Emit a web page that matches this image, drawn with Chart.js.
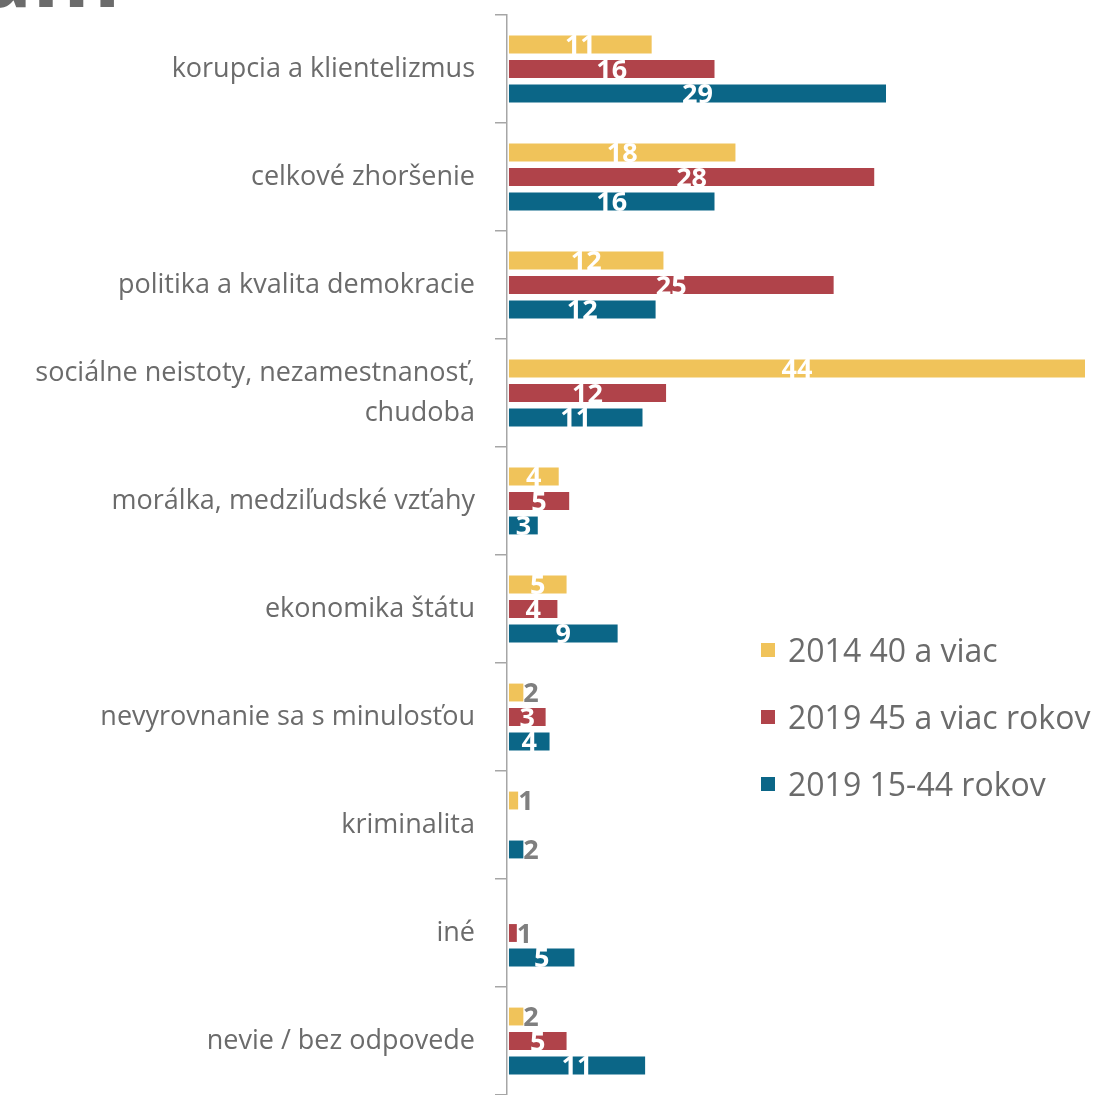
<!DOCTYPE html>
<html>
<head>
<meta charset="utf-8">
<script src="https://cdn.jsdelivr.net/npm/chart.js@4.4.0/dist/chart.umd.min.js"></script>
<style>
  body { margin: 0; background: #fff; overflow: hidden; }
  #wrap { position: relative; width: 1105px; height: 1095px; }
  #head { position: absolute; left: -22px; top: -73px; font: bold 90px "Open Sans"; color: #6b6b6b; line-height: 1; }
  #legend { position: absolute; left: 761px; top: 616px; font-family: "Open Sans"; font-size: 32px; color: #6b6b6b; }
  .row { height: 67px; display: flex; align-items: center; }
  .sw { width: 14px; height: 14px; margin-right: 13px; }
</style>
</head>
<body>
<div id="wrap">
  <canvas id="myChart" width="1105" height="1095"></canvas>
  <div id="head">am</div>
  <div id="legend"></div>
</div>
<script>
var categories = [
    "korupcia a klientelizmus",
    "celkové zhoršenie",
    "politika a kvalita demokracie",
    ["sociálne neistoty, nezamestnanosť,", "chudoba"],
    "morálka, medziľudské vzťahy",
    "ekonomika štátu",
    "nevyrovnanie sa s minulosťou",
    "kriminalita",
    "iné",
    "nevie / bez odpovede"
];

var seriesNames = ["2014 40 a viac", "2019 45 a viac rokov", "2019 15-44 rokov"];
var colors = ["#f0c35a", "#b0434a", "#0b6687"];

// bar lengths
var values2014 = [10.9, 17.3, 11.8, 44, 3.8, 4.4, 1.1, 0.7, 0, 1.1];
var values2019old = [15.7, 27.9, 24.8, 12.0, 4.6, 3.7, 2.8, 0, 0.6, 4.4];
var values2019young = [28.8, 15.7, 11.2, 10.2, 2.2, 8.3, 3.1, 1.1, 5.0, 10.4];

// numbers printed on the bars
var shown2014 = [11, 18, 12, 44, 4, 5, 2, 1, null, 2];
var shown2019old = [16, 28, 25, 12, 5, 4, 3, null, 1, 5];
var shown2019young = [29, 16, 12, 11, 3, 9, 4, 2, 5, 11];

var barLabels = {
    id: 'barLabels',
    afterDatasetsDraw: function(chart) {
        var ctx = chart.ctx;
        ctx.save();
        ctx.font = 'bold 27px "Open Sans"';
        ctx.textBaseline = 'middle';
        chart.data.datasets.forEach(function(ds, i) {
            var meta = chart.getDatasetMeta(i);
            meta.data.forEach(function(bar, j) {
                var txt = ds.shown[j];
                if (txt == null) return;
                if (txt <= 2) {
                    ctx.fillStyle = '#7f7f7f';
                    ctx.textAlign = 'left';
                    ctx.fillText(txt, bar.x, bar.y + 2);
                } else {
                    ctx.fillStyle = '#ffffff';
                    ctx.textAlign = 'center';
                    ctx.fillText(txt, (bar.x + bar.base) / 2, bar.y + 2);
                }
            });
        });
        ctx.restore();
    }
};

var data = {
    labels: categories,
    datasets: [
        { label: seriesNames[0], data: values2014, shown: shown2014, backgroundColor: colors[0] },
        { label: seriesNames[1], data: values2019old, shown: shown2019old, backgroundColor: colors[1] },
        { label: seriesNames[2], data: values2019young, shown: shown2019young, backgroundColor: colors[2] }
    ]
};

var ctx = document.getElementById('myChart');

var myChart = new Chart(ctx, {
    type: 'bar',
    data: data,
    plugins: [barLabels],
    options: {
        indexAxis: 'y',
        responsive: false,
        animation: false,
        categoryPercentage: 0.68,
        barPercentage: 0.73,
        layout: { padding: { top: 15, right: 20, bottom: 0, left: 0 } },
        plugins: {
            legend: { display: false },
            tooltip: { enabled: false }
        },
        scales: {
            x: { display: false, min: -0.15, max: 44 },
            y: {
                grid: { drawOnChartArea: false, tickLength: 12, color: '#a6a6a6', lineWidth: 1.5, offset: true },
                border: { display: true, color: '#a6a6a6', width: 1.5 },
                ticks: { color: '#6b6b6b', font: { family: 'Open Sans', size: 27, lineHeight: 1.48 }, padding: 20 },
                afterFit: function(scale) {
                    scale.width = 507;
                    scale.paddingTop = 0;
                    scale.paddingBottom = 0;
                }
            }
        }
    }
});

// legend sits inside the plot, to the right
var legend = document.getElementById('legend');
seriesNames.forEach(function(name, i) {
    var row = document.createElement('div');
    row.className = 'row';
    var sw = document.createElement('span');
    sw.className = 'sw';
    sw.style.background = colors[i];
    var t = document.createElement('span');
    t.textContent = name;
    row.appendChild(sw);
    row.appendChild(t);
    legend.appendChild(row);
});
</script>
</body>
</html>
